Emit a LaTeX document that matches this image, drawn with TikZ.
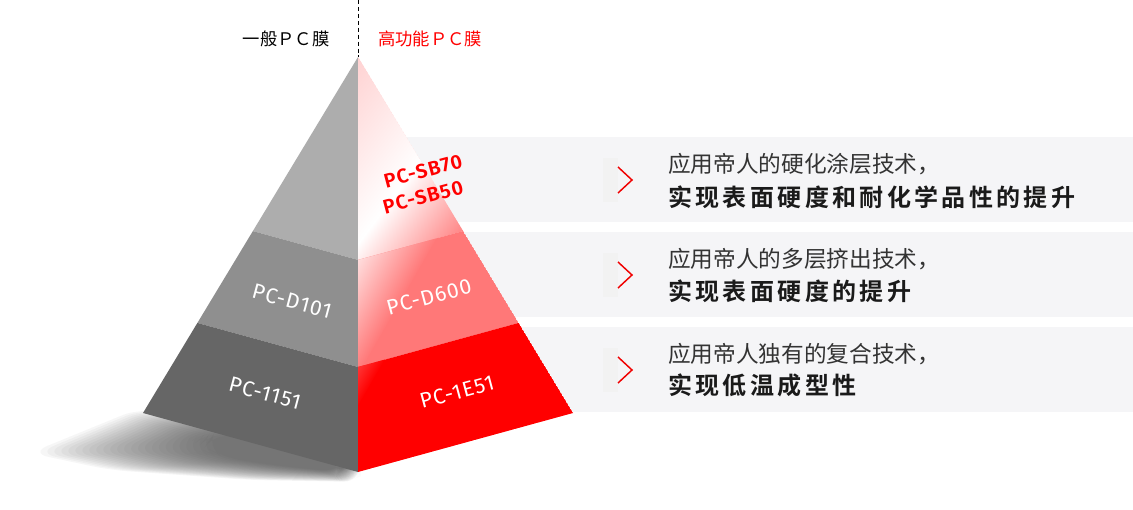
\documentclass[tikz,border=0pt]{standalone}
\usepackage{fontspec}
\usetikzlibrary{calc}
\newfontfamily\cjk{Noto Sans CJK SC}
\newfontfamily\cjkb[LetterSpace=14]{Noto Sans CJK SC Bold}
\newfontfamily\labf[LetterSpace=5]{Fira Sans}
\newfontfamily\labfb[LetterSpace=6]{Fira Sans SemiBold}
\definecolor{bandc}{HTML}{F5F5F7}
\definecolor{gA}{HTML}{ADADAD}
\definecolor{gB}{HTML}{8F8F8F}
\definecolor{gC}{HTML}{666666}
\definecolor{rTopA}{HTML}{FFD2D2}
\definecolor{rTopB}{HTML}{FF8585}
\definecolor{rMidA}{HTML}{FFF2F2}
\definecolor{rMid}{HTML}{FF7878}
\definecolor{rBot}{HTML}{FF0000}
\definecolor{rLite}{HTML}{FF5555}
\definecolor{txtA}{HTML}{333333}
\definecolor{txtB}{HTML}{1A1A1A}
\definecolor{chevc}{HTML}{F00000}
\definecolor{chevbox}{HTML}{F2F2F2}
\definecolor{shadowc}{HTML}{404040}
\tikzset{
  bandbox/.style={fill=bandc, draw=none},
  chev/.style={draw=chevc, line width=1.1pt, line join=miter},
  lineA/.style={anchor=west, inner sep=0pt, text=txtA, font=\cjk\fontsize{17pt}{19pt}\selectfont},
  lineB/.style={anchor=west, inner sep=0pt, text=txtB, font=\cjkb\fontsize{18pt}{20pt}\selectfont},
  hdr/.style={inner sep=0pt, font=\cjk\fontsize{13pt}{15pt}\selectfont},
  lbl/.style={inner sep=0pt, text=white, font=\labf\fontsize{16pt}{18pt}\selectfont},
  sblbl/.style={inner sep=0pt, text=rBot, font=\labfb\fontsize{15pt}{17pt}\selectfont},
}
\begin{document}
\begin{tikzpicture}[x=0.75pt,y=-0.75pt]
\useasboundingbox (0,0) rectangle (1133,510);
\fill[white] (0,0) rectangle (1133,510);

% background bands
\fill[bandbox] (358,137) rectangle (1133,222);
\fill[bandbox] (358,232) rectangle (1133,317);
\fill[bandbox] (358,327) rectangle (1133,412);

% key points
\coordinate (A) at (358,57);
\coordinate (L) at (143,413);
\coordinate (R) at (573,413);
\coordinate (B) at (358,472);
\coordinate (L1) at ($(A)!0.489!(L)$);
\coordinate (R1) at ($(A)!0.489!(R)$);
\coordinate (C1) at ($(A)!0.489!(B)$);
\coordinate (L2) at ($(A)!0.747!(L)$);
\coordinate (R2) at ($(A)!0.747!(R)$);
\coordinate (C2) at ($(A)!0.747!(B)$);

% shadow
\coordinate (o1) at (30,453);  \coordinate (i1) at (205,447);
\coordinate (o2) at (140,408); \coordinate (i2) at (215,432);
\coordinate (o3) at (358,458); \coordinate (i3) at (345,465);
\coordinate (o4) at (362,482); \coordinate (i4) at (340,472);
\coordinate (o5) at (250,480); \coordinate (i5) at (280,466);
\coordinate (o6) at (110,470); \coordinate (i6) at (225,458);
\foreach \t in {0,0.04,...,1.0}{
  \fill[shadowc, opacity=0.042, rounded corners=14]
    ($(o1)!\t!(i1)$) -- ($(o2)!\t!(i2)$) -- ($(o3)!\t!(i3)$) --
    ($(o4)!\t!(i4)$) -- ($(o5)!\t!(i5)$) -- ($(o6)!\t!(i6)$) -- cycle;
}

% left faces
\fill[gA] (A) -- (C1) -- (L1) -- cycle;
\fill[gB] (L1) -- (C1) -- (C2) -- (L2) -- cycle;
\fill[gC] (L2) -- (C2) -- (B) -- (L) -- cycle;

% right top face
\begin{scope}
  \clip (A) -- (R1) -- (C1) -- cycle;
  \fill[rTopA] (A) -- (R1) -- (C1) -- cycle;
  \begin{scope}[transform canvas={shift={(395,195)}, rotate=-37}]
    \fill[rTopA] (-400,-300) rectangle (-112,300);
    \shade[left color=rTopA, right color=white] (-112.5,-300) rectangle (0,300);
    \shade[left color=white, right color=rTopB] (-0.5,-300) rectangle (76,300);
    \fill[rTopB] (75.5,-300) rectangle (300,300);
  \end{scope}
\end{scope}

% right middle face
\begin{scope}
  \clip (C1) -- (R1) -- (R2) -- (C2) -- cycle;
  \fill[rMid] (C1) -- (R1) -- (R2) -- (C2) -- cycle;
  \begin{scope}[transform canvas={shift={(358,255)}, rotate=-30}]
    \shade[left color=rMidA, right color=rMid] (-10,-300) rectangle (60,300);
    \fill[rMidA] (-200,-300) rectangle (-9.5,300);
  \end{scope}
\end{scope}

% right bottom face
\begin{scope}
  \clip (C2) -- (R2) -- (R) -- (B) -- cycle;
  \fill[rBot] (C2) -- (R2) -- (R) -- (B) -- cycle;
  \begin{scope}[transform canvas={shift={(358,362)}, rotate=-30}]
    \shade[left color=rLite, right color=rBot] (-10,-300) rectangle (22,300);
  \end{scope}
\end{scope}

% dashed axis
\draw[black, line width=0.75pt, dash pattern=on 3pt off 2.2pt] (358,0) -- (A);

% headers
\node[hdr, text=black] (hdrL) at (286,39) {一般ＰＣ膜};
\node[hdr, text=rBot] (hdrR) at (430,39) {高功能ＰＣ膜};

% pyramid labels
\node[sblbl, rotate=15] (sb70) at (423,171) {PC-SB70};
\node[sblbl, rotate=15] (sb50) at (423,197) {PC-SB50};
\node[lbl, rotate=-15] (d101) at (292,301) {PC-D101};
\node[lbl, rotate=15] (d600) at (429,297) {PC-D600};
\node[lbl, rotate=-15] (p1151) at (265,393) {PC-1151};
\node[lbl, rotate=15] (p1e51) at (457,392) {PC-1E51};

% chevrons
\fill[chevbox] (603,158) rectangle (618,202);
\fill[chevbox] (603,253) rectangle (618,297);
\fill[chevbox] (603,348) rectangle (618,392);
\draw[chev] (618,167) -- (632,180) -- (618,193);
\draw[chev] (618,262) -- (632,275) -- (618,288);
\draw[chev] (618,357) -- (632,370) -- (618,383);

% texts
\node[lineA] (t1a) at (668,164) {应用帝人的硬化涂层技术，};
\node[lineB] (t1b) at (668,197) {实现表面硬度和耐化学品性的提升};
\node[lineA] (t2a) at (668,259) {应用帝人的多层挤出技术，};
\node[lineB] (t2b) at (668,291) {实现表面硬度的提升};
\node[lineA] (t3a) at (668,354) {应用帝人独有的复合技术，};
\node[lineB] (t3b) at (668,385) {实现低温成型性};
\end{tikzpicture}
\end{document}
